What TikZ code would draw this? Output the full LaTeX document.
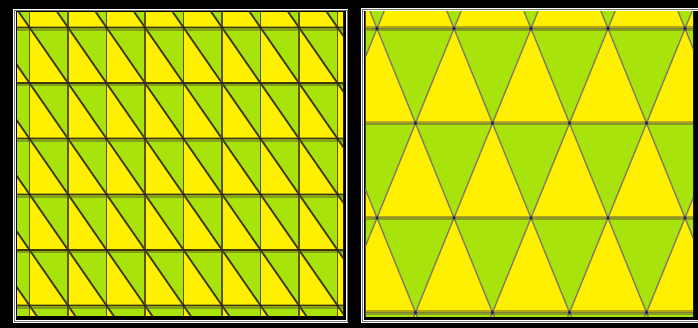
\documentclass[tikz,border=0pt]{standalone}
\usepackage{tikz}
\usetikzlibrary{calc}

\definecolor{meshyellow}{RGB}{255,240,0}
\definecolor{meshgreen}{RGB}{168,228,12}
\definecolor{edgeolive}{RGB}{62,58,10}
\definecolor{bandolive}{RGB}{90,80,40}
\definecolor{edgegray}{RGB}{130,125,95}
\definecolor{vertexblue}{RGB}{30,30,115}

\begin{document}
\begin{tikzpicture}[x=1pt, y=-1pt]
    \tikzstyle{frame} = [draw=white, line width=0.9pt, double=black!55, double distance=0.9pt]
    \tikzstyle{sqedge} = [draw=edgeolive, line width=1.8pt]
    \tikzstyle{band} = [draw=bandolive, opacity=0.45, line width=4.5pt]
    \tikzstyle{triedge} = [draw=edgegray, line width=1.4pt]

    \fill[black] (0,0) rectangle (698,328);
    \useasboundingbox (0,0) rectangle (698,328);

    % left mesh: squares cut along one diagonal
    \begin{scope}
        \clip (17,13) rectangle (343,315);
        \foreach \i in {-1,...,8} {
            \foreach \j in {-1,...,5} {
                \pgfmathsetmacro{\xa}{29.5+38.5*\i}
                \pgfmathsetmacro{\ya}{27.5+55.6*\j}
                \pgfmathsetmacro{\xb}{\xa+38.5}
                \pgfmathsetmacro{\yb}{\ya+55.6}
                \fill[meshyellow] (\xa,\ya) -- (\xa,\yb) -- (\xb,\yb) -- cycle;
                \fill[meshgreen] (\xa,\ya) -- (\xb,\ya) -- (\xb,\yb) -- cycle;
            }
        }
        \foreach \i in {-1,...,8} {
            \foreach \j in {-1,...,5} {
                \pgfmathsetmacro{\xa}{29.5+38.5*\i}
                \pgfmathsetmacro{\ya}{27.5+55.6*\j}
                \draw[sqedge] (\xa,\ya) -- ++(38.5,55.6);
            }
        }
        \foreach \i in {-1,...,8} {
            \pgfmathsetmacro{\xa}{29.5+38.5*\i}
            \draw[sqedge, draw=edgeolive!85!meshyellow] (\xa,0) -- (\xa,330);
        }
        \foreach \j in {-1,...,5} {
            \pgfmathsetmacro{\ya}{27.5+55.6*\j}
            \draw[band] (0,\ya+1) -- (350,\ya+1);
            \draw[sqedge, line width=1.5pt] (0,\ya) -- (350,\ya);
        }
        \foreach \i in {0,...,8} {
            \foreach \j in {0,...,5} {
                \fill[black!85] (29.5+38.5*\i, 27.5+55.6*\j) circle (1.6pt);
            }
        }
    \end{scope}

    % right mesh: triangles in staggered rows
    \begin{scope}
        \clip (365.5,12) rectangle (693,316);
        \foreach \r in {-1,...,3} {
            \pgfmathsetmacro{\ya}{28.5+94.67*\r}
            \pgfmathsetmacro{\yb}{\ya+94.67}
            \pgfmathsetmacro{\off}{38.5*mod(\r+2,2)}
            \foreach \k in {-2,...,4} {
                \pgfmathsetmacro{\xa}{377+\off+77*\k}
                \fill[meshgreen] (\xa,\ya) -- (\xa+77,\ya) -- (\xa+38.5,\yb) -- cycle;
                \fill[meshyellow] (\xa+38.5,\yb) -- (\xa+115.5,\yb) -- (\xa+77,\ya) -- cycle;
            }
        }
        \foreach \r in {-1,...,3} {
            \pgfmathsetmacro{\ya}{28.5+94.67*\r}
            \pgfmathsetmacro{\off}{38.5*mod(\r+2,2)}
            \foreach \k in {-2,...,4} {
                \pgfmathsetmacro{\xa}{377+\off+77*\k}
                \draw[triedge] (\xa-38.5,\ya+94.67) -- (\xa,\ya) -- (\xa+38.5,\ya+94.67);
            }
        }
        \foreach \r in {-1,...,3} {
            \pgfmathsetmacro{\ya}{28.5+94.67*\r}
            \draw[band] (360,\ya) -- (700,\ya);
            \draw[triedge, line width=0.8pt, opacity=0.6] (360,\ya) -- (700,\ya);
        }
        \foreach \r in {0,...,3} {
            \pgfmathsetmacro{\ya}{28.5+94.67*\r}
            \pgfmathsetmacro{\off}{38.5*mod(\r,2)}
            \foreach \k in {0,...,4} {
                \fill[vertexblue] (377+\off+77*\k,\ya) circle (1.8pt);
            }
        }
    \end{scope}

    % white double frames
    \draw[frame] (14.2,10) rectangle (347,321.5);
    \draw[frame] (362.3,9.6) rectangle (706,321.3);
\end{tikzpicture}
\end{document}
